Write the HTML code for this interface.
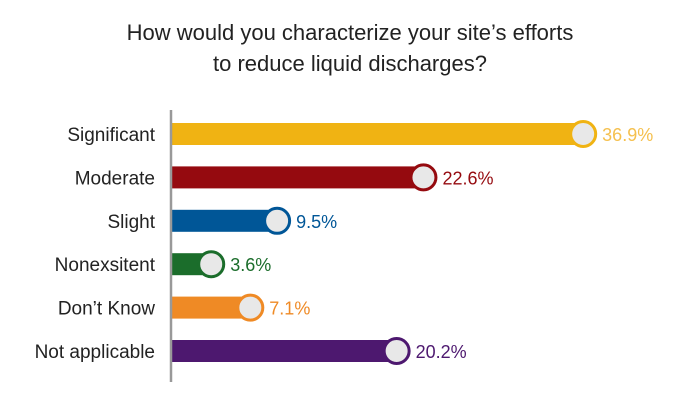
<!DOCTYPE html>
<html><head><meta charset="utf-8"><style>
body{margin:0;background:#fff;}
svg{display:block;font-family:"Liberation Sans",sans-serif;}
</style></head><body>
<svg id="chart" width="700" height="415">
<text x="350" y="40" text-anchor="middle" font-size="22" fill="#222">How would you characterize your site’s efforts</text>
<text x="350" y="71" text-anchor="middle" font-size="22" fill="#222">to reduce liquid discharges?</text>
<g id="bars"></g>
<line x1="171" y1="110" x2="171" y2="382" stroke="#999" stroke-width="2.5"/>
</svg>
<script>
const categories=["Significant","Moderate","Slight","Nonexsitent","Don’t Know","Not applicable"];
const values=[36.9,22.6,9.5,3.6,7.1,20.2];
const valueLabels=["36.9%","22.6%","9.5%","3.6%","7.1%","20.2%"];
const colors=["#f0b313","#950a0f","#005697","#1b6d2b","#ef8a25","#4d186f"];
const labelColors=["#f5c04e","#950a0f","#005697","#1b6d2b","#ef8a25","#4d186f"];
const NS="http://www.w3.org/2000/svg";
const x=v=>171+v*11.17;
const y=i=>134+i*43.4;
const g=document.getElementById("bars");
function mk(t,a){const e=document.createElementNS(NS,t);for(const k in a)e.setAttribute(k,a[k]);g.appendChild(e);return e;}
categories.forEach((c,i)=>{
  const cy=y(i);
  const lab=mk("text",{x:155,y:cy+7,"text-anchor":"end","font-size":19,fill:"#222"});
  lab.textContent=c;
  
  
  const r=mk("rect",{x:171,y:cy-11,width:x(values[i])-171,height:22,fill:colors[i]});
  
  
  const ci=mk("circle",{cx:x(values[i]),cy:cy,r:12.5,fill:"#e8e8e8",stroke:colors[i],"stroke-width":3});
  
  
  const vl=mk("text",{x:x(values[i])+19,y:cy+7,"font-size":18,fill:labelColors[i]});
  vl.textContent=valueLabels[i];
  
  
});
</script>
</body></html>
